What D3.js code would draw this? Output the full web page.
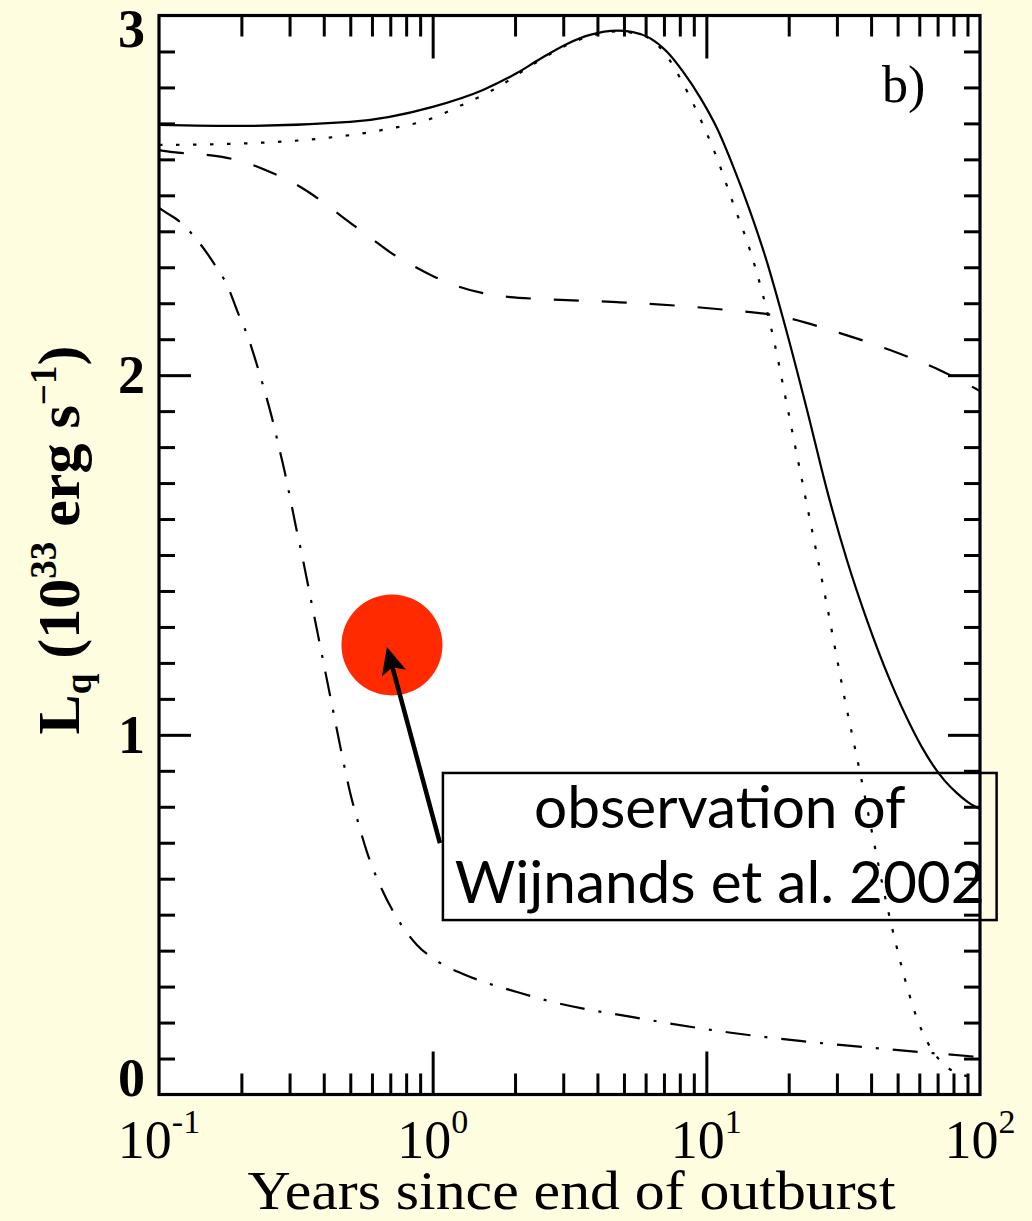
<!DOCTYPE html>
<html>
<head>
<meta charset="utf-8">
<script src="https://cdn.jsdelivr.net/npm/d3@7"></script>
<style>
  html, body { margin: 0; padding: 0; background: #fffde0; }
  svg { display: block; }
</style>
</head>
<body>
<svg id="chart" width="1032" height="1221"></svg>
<script>
// Quiescent luminance L_q (1e33 erg/s) versus years since the end of the outburst.

// Solid model curve
const solidT = [0.1, 0.198, 0.499, 1.0, 1.527, 2.032, 2.466, 3.096, 3.756, 4.715, 5.394, 6.222, 7.18, 8.23, 9.475, 10.93, 12.51, 14.43, 16.65, 19.05, 23.32, 27.58, 32.63, 38.62, 46.86, 56.87, 61.85, 67.28, 74.4, 82.34, 90.3, 100];
const solidL = [2.696, 2.693, 2.704, 2.746, 2.793, 2.840, 2.879, 2.921, 2.946, 2.958, 2.954, 2.937, 2.899, 2.843, 2.773, 2.687, 2.582, 2.457, 2.315, 2.159, 1.904, 1.681, 1.486, 1.319, 1.152, 1.013, 0.961, 0.916, 0.872, 0.838, 0.813, 0.794];

// Dotted model curve
const dotT = [0.1, 0.215, 0.378, 0.658, 1.0025, 1.237, 1.527, 1.762, 2.032, 2.466, 3.096, 3.756, 4.715, 5.394, 6.222, 7.18, 8.23, 9.475, 10.93, 12.51, 14.43, 16.10, 17.81, 19.38, 21.25, 23.12, 27.35, 32.10, 36.41, 40.62, 44.19, 48.89, 54.53, 59.32, 64.53, 70.20, 76.33, 84.46, 100];
const dotL = [2.640, 2.645, 2.657, 2.682, 2.715, 2.746, 2.779, 2.804, 2.835, 2.876, 2.918, 2.943, 2.956, 2.951, 2.935, 2.887, 2.810, 2.715, 2.604, 2.479, 2.348, 2.223, 2.084, 1.945, 1.792, 1.653, 1.375, 1.097, 0.897, 0.716, 0.577, 0.430, 0.291, 0.204, 0.143, 0.101, 0.074, 0.057, 0.046];

// Dashed model curve
const dashT = [0.1, 0.1125, 0.1388, 0.17, 0.2097, 0.2545, 0.306, 0.3653, 0.4287, 0.507, 0.6, 0.698, 0.84, 1.0, 1.227, 1.527, 1.916, 2.466, 4.715, 10.93, 19.05, 30.77, 46.86, 71.36, 100];
const dashL = [2.626, 2.620, 2.615, 2.607, 2.590, 2.565, 2.537, 2.501, 2.462, 2.420, 2.379, 2.342, 2.306, 2.276, 2.248, 2.228, 2.217, 2.212, 2.203, 2.184, 2.162, 2.117, 2.070, 2.014, 1.956];

// Dash-dot model curve
const dashDotT = [0.1, 0.1052, 0.1193, 0.1377, 0.1602, 0.1787, 0.1944, 0.2115, 0.2281, 0.2439, 0.2588, 0.2722, 0.2886, 0.301, 0.3166, 0.333, 0.3473, 0.3622, 0.381, 0.3974, 0.4322, 0.4663, 0.4987, 0.5334, 0.5754, 0.6418, 0.7406, 0.8762, 1.0368, 1.291, 1.579, 2.032, 2.751, 5.394, 12.51, 21.98, 30.77, 67.28, 100];
const dashDotL = [2.465, 2.454, 2.426, 2.376, 2.306, 2.245, 2.173, 2.106, 2.028, 1.953, 1.881, 1.811, 1.728, 1.661, 1.578, 1.500, 1.431, 1.361, 1.278, 1.208, 1.069, 0.944, 0.841, 0.758, 0.674, 0.582, 0.491, 0.416, 0.371, 0.335, 0.310, 0.285, 0.257, 0.215, 0.171, 0.149, 0.138, 0.115, 0.104];

// Observed point and its annotation
const obsT = [0.71];
const obsL = [1.25];
const arrowTailT = 1.063;
const arrowTailL = 0.699;
const boxT = [1.09, 115];
const boxL = [0.894, 0.485];
const noteLines = ["observation of", "Wijnands et al. 2002"];

// Axes
const xMajorTicks = [0.1, 1, 10, 100];
const xTickExponents = ["-1", "0", "1", "2"];
const yMajorTicks = [0, 1, 2, 3];
const yTickLabels = ["0", "1", "2", "3"];
const panelLabel = "b)";
const xTitle = "Years since end of outburst";

const svg = d3.select("#chart");
const P = { left: 159, right: 980, top: 15.5, bottom: 1094.5 };

const x = d3.scaleLog().domain([0.1, 100]).range([P.left, P.right]);
const y = d3.scaleLinear().domain([0, 3]).range([P.bottom, P.top]);

// Plot background
svg.append("rect")
  .attr("x", P.left - 2).attr("y", P.top - 2.5)
  .attr("width", P.right - P.left + 5).attr("height", P.bottom - P.top + 6)
  .attr("fill", "#ffffff");

svg.append("clipPath").attr("id", "plotClip")
  .append("rect")
  .attr("x", P.left).attr("y", P.top)
  .attr("width", P.right - P.left).attr("height", P.bottom - P.top);

const line = d3.line().x(d => x(d[0])).y(d => y(d[1])).curve(d3.curveMonotoneX);

const series = [
  { t: solidT, l: solidL, dash: null },
  { t: dotT, l: dotL, dash: "3.5,13.5" },
  { t: dashT, l: dashL, dash: "25,23" },
  { t: dashDotT, l: dashDotL, dash: "25,14,3,14" }
];

const curves = svg.append("g").attr("clip-path", "url(#plotClip)");
series.forEach(s => {
  curves.append("path")
    .datum(s.t.map((t, i) => [t, s.l[i]]))
    .attr("d", line)
    .attr("fill", "none")
    .attr("stroke", "#000")
    .attr("stroke-width", 2.2)
    .attr("stroke-dasharray", s.dash);
});

// Observation marker
svg.append("g").selectAll("circle")
  .data(obsT.map((t, i) => [t, obsL[i]]))
  .join("circle")
  .attr("cx", d => x(d[0]))
  .attr("cy", d => y(d[1]))
  .attr("r", 50.5)
  .attr("fill", "#ff2a00");

// Arrow from the note to the observation
{
  const tx = x(obsT[0]) - 5, ty = y(obsL[0]) + 2;
  const sx = x(arrowTailT), sy = y(arrowTailL);
  const dx = tx - sx, dy = ty - sy, len = Math.hypot(dx, dy);
  const ux = dx / len, uy = dy / len, nx = -uy, ny = ux;
  const headLen = 27, headHalf = 12.5, notch = 21;
  svg.append("line")
    .attr("x1", sx).attr("y1", sy)
    .attr("x2", tx - ux * notch).attr("y2", ty - uy * notch)
    .attr("stroke", "#000").attr("stroke-width", 4.5);
  const bx = tx - ux * headLen, by = ty - uy * headLen;
  svg.append("path")
    .attr("d", `M${tx},${ty} L${bx + nx * headHalf},${by + ny * headHalf} L${tx - ux * notch},${ty - uy * notch} L${bx - nx * headHalf},${by - ny * headHalf} Z`)
    .attr("fill", "#000");
}

// Note box
const bx0 = x(boxT[0]), bx1 = x(boxT[1]), by0 = y(boxL[0]), by1 = y(boxL[1]);
svg.append("rect")
  .attr("x", bx0).attr("y", by0)
  .attr("width", bx1 - bx0).attr("height", by1 - by0)
  .attr("fill", "none").attr("stroke", "#000").attr("stroke-width", 2.5);
svg.append("g").selectAll("text")
  .data(noteLines)
  .join("text")
  .attr("x", (bx0 + bx1) / 2)
  .attr("y", (d, i) => by0 + 55 + i * 75)
  .attr("text-anchor", "middle")
  .attr("font-family", "Lato, 'Open Sans', sans-serif")
  .attr("font-size", 58.5)
  .attr("fill", "#000")
  .text(d => d);

// Tick marks on all four sides
const xMinor = [];
[0.1, 1, 10].forEach(d => { for (let k = 2; k <= 9; k++) xMinor.push(+(d * k).toPrecision(3)); });
const yMinor = d3.range(1, 30).filter(i => i % 10 !== 0).map(i => i / 10);

function ticks(axisFn, scale, values, size, tx, ty) {
  const g = svg.append("g").attr("transform", `translate(${tx},${ty})`)
    .call(axisFn(scale).tickValues(values).tickSize(size).tickSizeOuter(0).tickFormat(() => ""));
  g.select(".domain").remove();
  g.selectAll("line").attr("stroke", "#000").attr("stroke-width", 3);
  return g;
}
ticks(d3.axisBottom, x, xMajorTicks.slice(1, -1), -43, 0, P.bottom);
ticks(d3.axisBottom, x, xMinor, -21, 0, P.bottom);
ticks(d3.axisTop, x, xMajorTicks.slice(1, -1), -43, 0, P.top);
ticks(d3.axisTop, x, xMinor, -21, 0, P.top);
ticks(d3.axisLeft, y, [1, 2], -32, P.left, 0);
ticks(d3.axisLeft, y, yMinor, -16, P.left, 0);
ticks(d3.axisRight, y, [1, 2], -32, P.right, 0);
ticks(d3.axisRight, y, yMinor, -16, P.right, 0);

// Frame
svg.append("rect")
  .attr("x", P.left).attr("y", P.top)
  .attr("width", P.right - P.left).attr("height", P.bottom - P.top)
  .attr("fill", "none").attr("stroke", "#000").attr("stroke-width", 3.2);

// X tick labels: powers of ten
const serif = "'Liberation Serif', 'Times New Roman', serif";
svg.append("g").selectAll("text")
  .data(xMajorTicks)
  .join("text")
  .attr("x", d => x(d))
  .attr("y", 1158)
  .attr("text-anchor", "middle")
  .attr("font-family", serif)
  .attr("font-size", 54)
  .attr("fill", "#000")
  .each(function (d, i) {
    const t = d3.select(this);
    t.append("tspan").text("10");
    t.append("tspan").attr("dy", -25).attr("font-size", 34).text(xTickExponents[i]);
  });

// Y tick labels
svg.append("g").selectAll("text")
  .data(yMajorTicks)
  .join("text")
  .attr("x", 145)
  .attr("y", d => Math.min(Math.max(y(d), P.top + 13), P.bottom - 17) + 18)
  .attr("text-anchor", "end")
  .attr("font-family", serif)
  .attr("font-weight", "bold")
  .attr("font-size", 54)
  .attr("fill", "#000")
  .text((d, i) => yTickLabels[i]);

// Axis titles
svg.append("text")
  .attr("x", (P.left + P.right) / 2 + 2)
  .attr("y", 1209)
  .attr("text-anchor", "middle")
  .attr("font-family", serif)
  .attr("font-size", 55)
  .attr("textLength", 648)
  .attr("lengthAdjust", "spacingAndGlyphs")
  .attr("fill", "#000")
  .text(xTitle);

const yTitle = svg.append("text")
  .attr("transform", "translate(79,540) rotate(-90)")
  .attr("text-anchor", "middle")
  .attr("font-family", serif)
  .attr("font-weight", "bold")
  .attr("font-size", 60)
  .attr("fill", "#000");
yTitle.append("tspan").text("L");
yTitle.append("tspan").attr("dy", 12).attr("font-size", 37).text("q");
yTitle.append("tspan").attr("dy", -12).text(" (10");
yTitle.append("tspan").attr("dy", -23).attr("font-size", 37).text("33");
yTitle.append("tspan").attr("dy", 23).text(" erg s");
yTitle.append("tspan").attr("dy", -23).attr("font-size", 37).text("\u22121");
yTitle.append("tspan").attr("dy", 23).text(")");

// Panel label
svg.append("text")
  .attr("x", 882).attr("y", 102)
  .attr("font-family", serif)
  .attr("font-size", 52)
  .attr("fill", "#000")
  .text(panelLabel);
</script>
</body>
</html>
